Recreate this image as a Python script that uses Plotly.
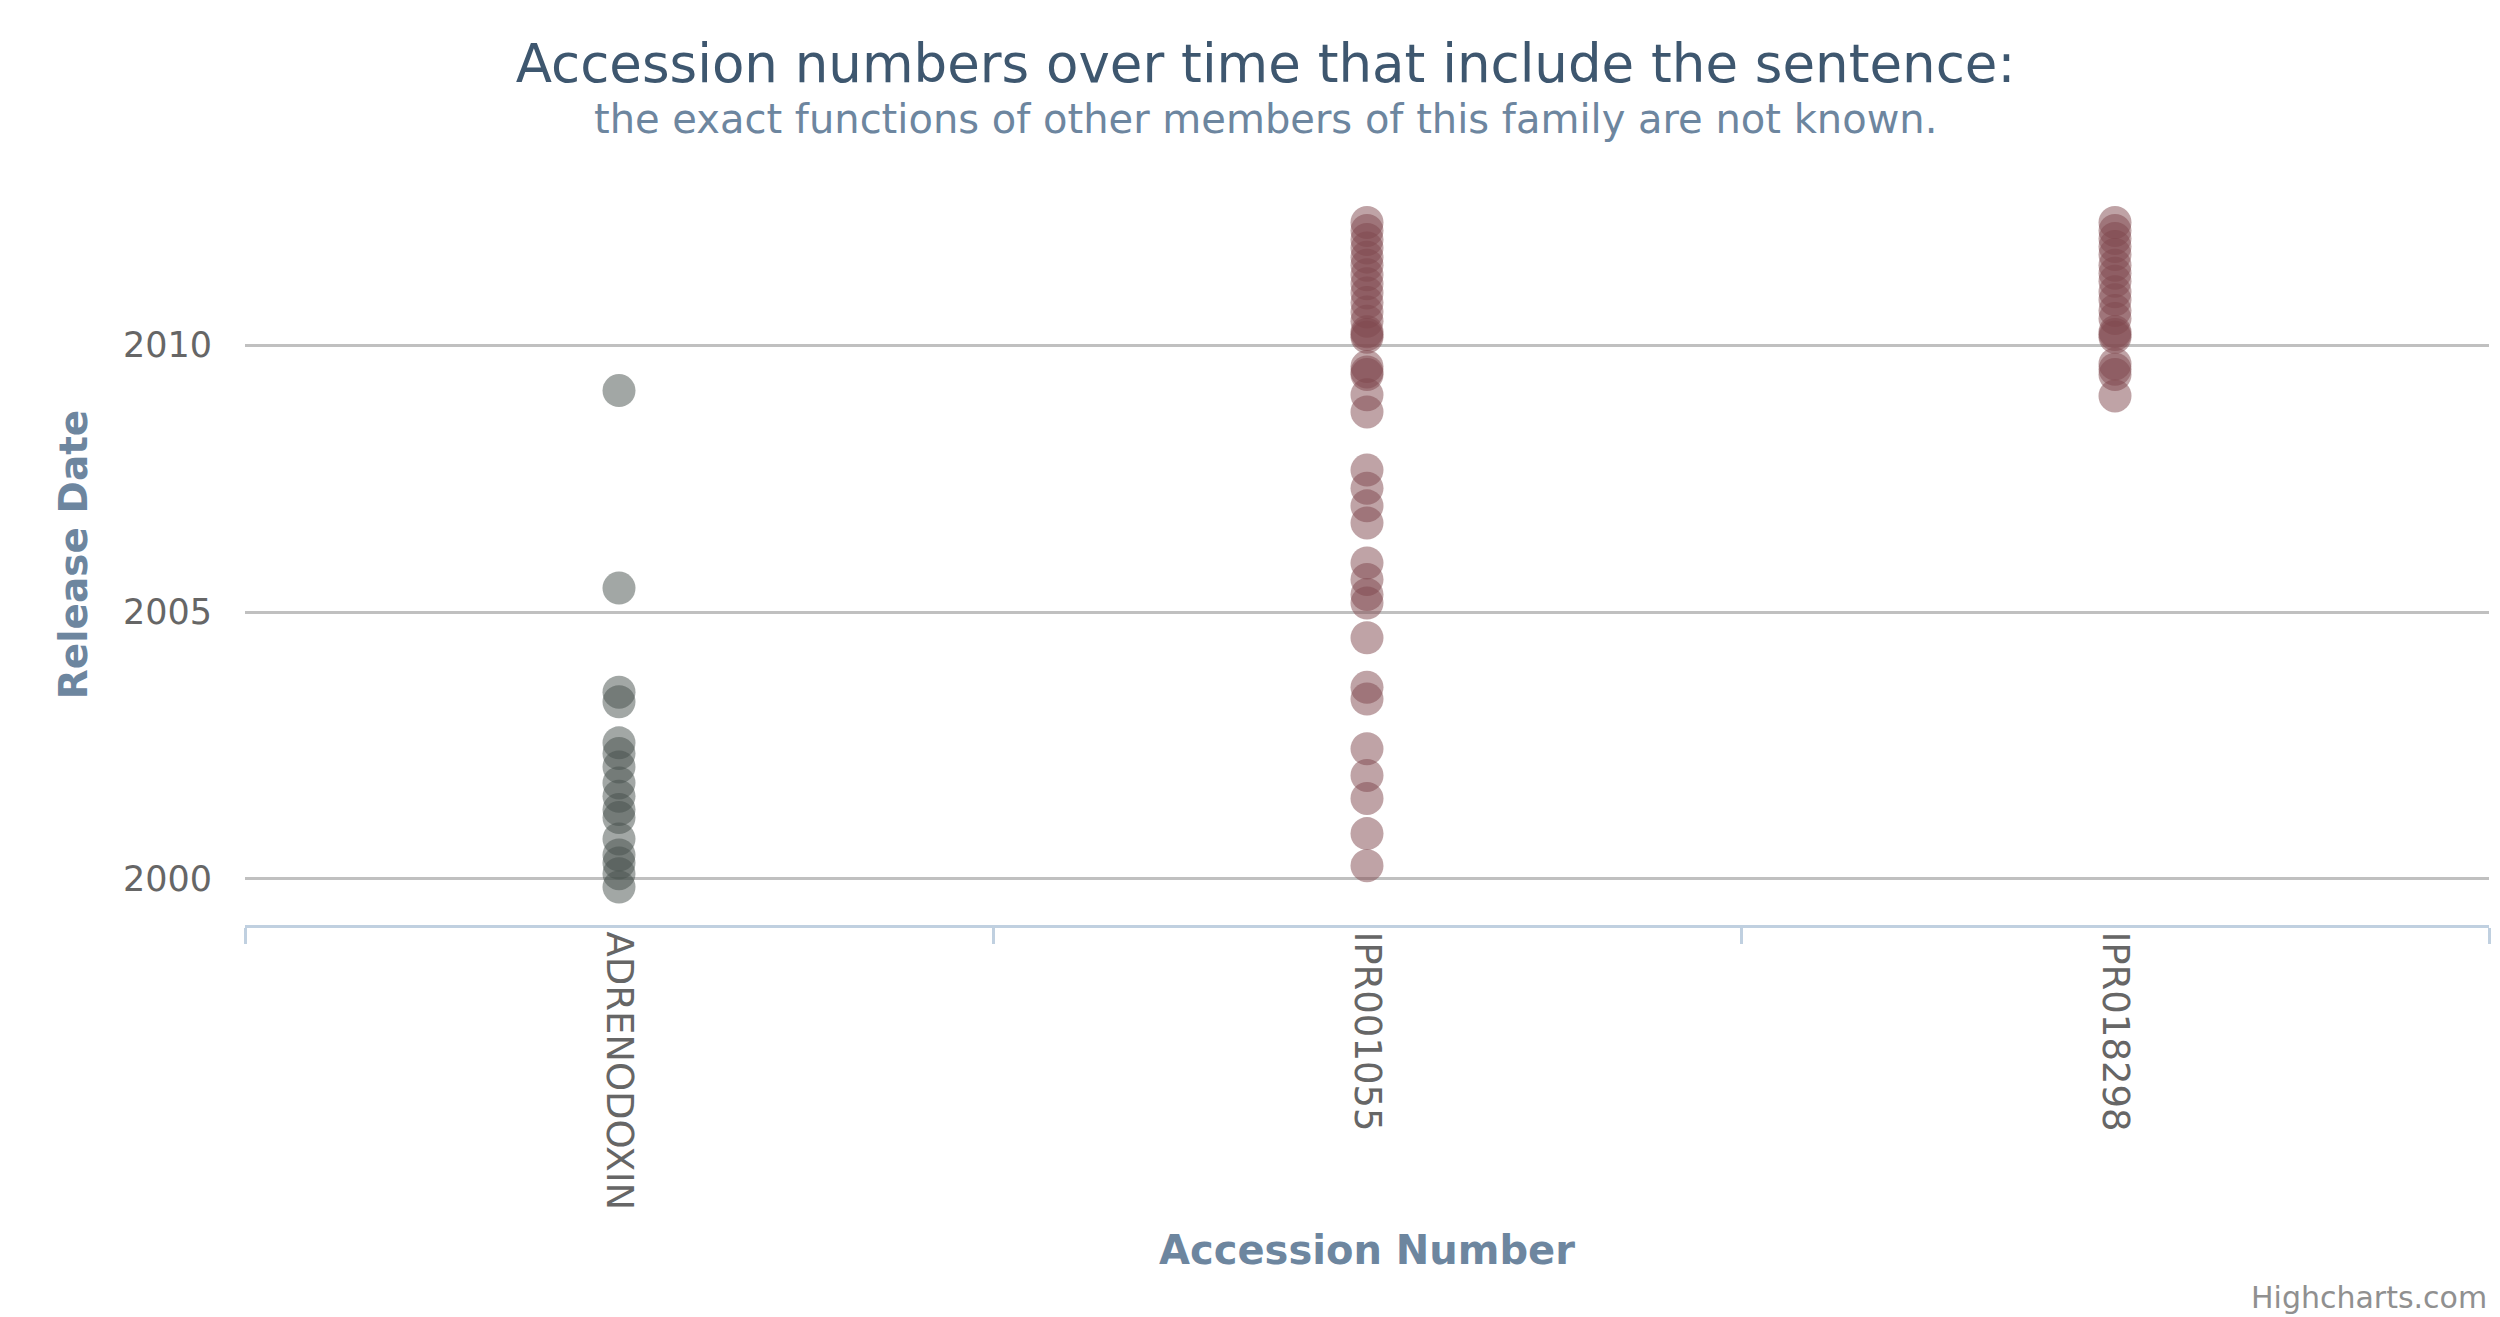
import plotly.graph_objects as go

categories = ["ADRENODOXIN", "IPR001055", "IPR018298"]

adrenodoxin_years = [2009.15, 2005.45, 2003.5, 2003.32, 2002.55, 2002.35, 2002.1,
                     2001.8, 2001.55, 2001.3, 2001.15, 2000.75, 2000.45, 2000.3,
                     2000.1, 1999.85]

ipr001055_years = [2012.3, 2012.15, 2011.98, 2011.82, 2011.65, 2011.5, 2011.32,
                   2011.15, 2010.98, 2010.8, 2010.62, 2010.45, 2010.25, 2010.2,
                   2010.15, 2009.6, 2009.5, 2009.45, 2009.07, 2008.75,
                   2007.66, 2007.32, 2006.99, 2006.67, 2005.92, 2005.61, 2005.33,
                   2005.17, 2004.52, 2003.59, 2003.37, 2002.44, 2001.94, 2001.51,
                   2000.85, 2000.25]

ipr018298_years = [2012.3, 2012.15, 2012.0, 2011.85, 2011.7, 2011.5, 2011.35,
                   2011.2, 2011.0, 2010.85, 2010.65, 2010.5, 2010.25, 2010.2,
                   2010.15, 2009.65, 2009.55, 2009.45, 2009.05]

year_ticks = [2000, 2005, 2010]

series = [
    (categories[0], adrenodoxin_years, "rgba(70,80,75,0.5)"),
    (categories[1], ipr001055_years, "rgba(128,72,78,0.5)"),
    (categories[2], ipr018298_years, "rgba(128,72,78,0.5)"),
]

FONT = "DejaVu Sans, Verdana, sans-serif"

W, H = 2500, 1317
L, R, T, B = 237, 19, 176, 400
PH = H - T - B

fig = go.Figure()
for cat, ys, col in series:
    fig.add_trace(go.Scatter(
        x=[cat] * len(ys), y=ys, mode="markers", name=cat,
        marker=dict(size=33, color=col, line=dict(width=0)),
        showlegend=False,
    ))

fig.update_layout(
    width=W, height=H,
    paper_bgcolor="white", plot_bgcolor="white",
    margin=dict(l=L, r=R, t=T, b=B, autoexpand=False),
    font=dict(family=FONT),
    title=dict(
        text="Accession numbers over time that include the sentence:",
        font=dict(family=FONT, size=53, color="#3E576F"),
        x=0.503, xanchor="center", xref="container",
        y=1 - 55 / H, yanchor="middle", yref="container",
    ),
    annotations=[
        dict(text="the exact functions of other members of this family are not known.",
             xref="paper", yref="paper", x=(1257 - L) / (W - L - R), y=1 + (T - 111) / PH,
             xanchor="center", yanchor="middle", showarrow=False,
             font=dict(family=FONT, size=40, color="#6D869F")),
        dict(text="Highcharts.com", xref="paper", yref="paper",
             x=1.0, y=-(1289 - (H - B)) / PH, xanchor="right", yanchor="middle",
             showarrow=False, font=dict(family=FONT, size=30, color="#909090")),
    ],
)

fig.update_xaxes(
    type="category", categoryorder="array", categoryarray=categories,
    range=[-0.5, 2.5],
    showline=True, linecolor="#C0D0E0", linewidth=3,
    ticks="outside", tickson="boundaries", ticklen=16, tickwidth=3, tickcolor="#C0D0E0",
    tickangle=90, tickfont=dict(family=FONT, size=37, color="#666666"),
    ticklabelstandoff=-4,
    showgrid=False, zeroline=False,
    title=dict(text="<b>Accession Number</b>", standoff=27,
               font=dict(family=FONT, size=40, color="#6D869F")),
)

fig.update_yaxes(
    range=[1999.138, 2013.02],
    tickvals=year_ticks, ticktext=[str(v) for v in year_ticks],
    showgrid=True, gridcolor="#C0C0C0", gridwidth=3,
    showline=False, zeroline=False, ticks="",
    tickfont=dict(family=FONT, size=35, color="#666666"),
    ticklabelstandoff=32,
    title=dict(text="<b>Release Date</b>", standoff=23,
               font=dict(family=FONT, size=39, color="#6D869F")),
)

fig.write_html("out.html")
